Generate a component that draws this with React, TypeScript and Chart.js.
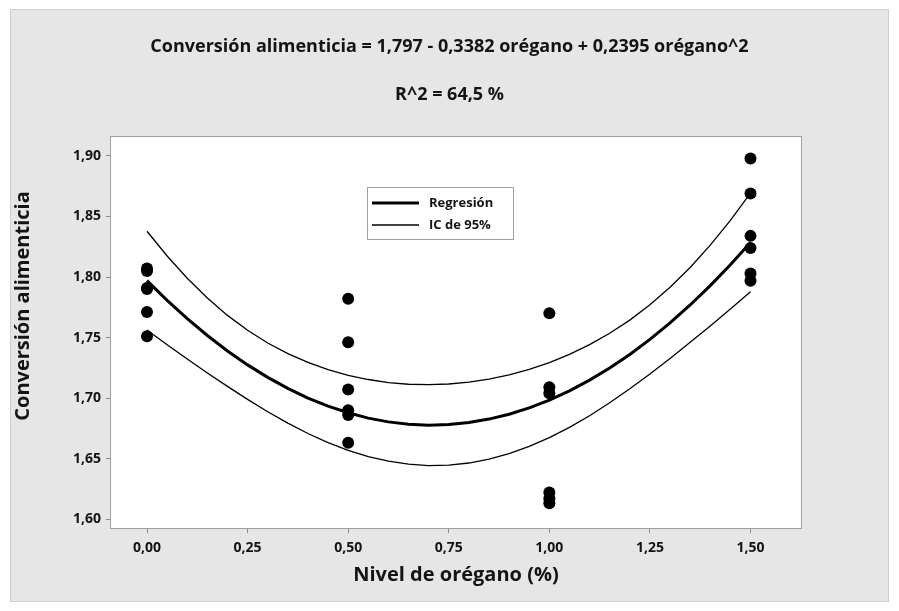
import React, { useEffect, useRef } from "react";
import { Chart, registerables } from "chart.js";

Chart.register(...registerables);

const titleLine1 = "Conversión alimenticia = 1,797 - 0,3382 orégano + 0,2395 orégano^2";
const titleLine2 = "R^2 = 64,5 %";
const xAxisTitle = "Nivel de orégano (%)";
const yAxisTitle = "Conversión alimenticia";
const legendLabels = ["Regresión", "IC de 95%"];

const xTickValues = [0, 0.25, 0.5, 0.75, 1, 1.25, 1.5];
const yTickValues = [1.6, 1.65, 1.7, 1.75, 1.8, 1.85, 1.9];

// observed data
const obsX = [
  0, 0, 0, 0, 0, 0,
  0.5, 0.5, 0.5, 0.5, 0.5, 0.5,
  1, 1, 1, 1, 1, 1,
  1.5, 1.5, 1.5, 1.5, 1.5, 1.5,
];
const obsY = [
  1.807, 1.805, 1.791, 1.790, 1.771, 1.751,
  1.782, 1.746, 1.707, 1.690, 1.686, 1.663,
  1.770, 1.709, 1.704, 1.622, 1.617, 1.613,
  1.898, 1.869, 1.834, 1.824, 1.803, 1.797,
];

// fitted curve and 95% CI read along the x axis
const curveX = [
  0, 0.05, 0.1, 0.15, 0.2, 0.25, 0.3, 0.35, 0.4, 0.45, 0.5, 0.55, 0.6, 0.65, 0.7, 0.75,
  0.8, 0.85, 0.9, 0.95, 1, 1.05, 1.1, 1.15, 1.2, 1.25, 1.3, 1.35, 1.4, 1.45, 1.5,
];
const fitY = [
  1.7970, 1.7807, 1.7656, 1.7517, 1.7389, 1.7274, 1.7171, 1.7080, 1.7000, 1.6933, 1.6878,
  1.6834, 1.6803, 1.6784, 1.6776, 1.6781, 1.6797, 1.6826, 1.6866, 1.6919, 1.6983, 1.7059,
  1.7148, 1.7248, 1.7360, 1.7485, 1.7621, 1.7769, 1.7929, 1.8102, 1.8286,
];
const upperY = [
  1.8378, 1.8174, 1.7990, 1.7826, 1.7683, 1.7560, 1.7455, 1.7367, 1.7294, 1.7235, 1.7188,
  1.7153, 1.7128, 1.7114, 1.7110, 1.7116, 1.7131, 1.7156, 1.7192, 1.7237, 1.7293, 1.7361,
  1.7441, 1.7535, 1.7644, 1.7770, 1.7915, 1.8079, 1.8263, 1.8468, 1.8694,
];
const lowerY = [
  1.7562, 1.7440, 1.7322, 1.7207, 1.7096, 1.6989, 1.6887, 1.6793, 1.6707, 1.6631, 1.6568,
  1.6516, 1.6478, 1.6453, 1.6442, 1.6446, 1.6463, 1.6495, 1.6541, 1.6600, 1.6673, 1.6758,
  1.6854, 1.6961, 1.7077, 1.7199, 1.7327, 1.7460, 1.7596, 1.7735, 1.7878,
];

const FONT = '"Open Sans", "Noto Sans", "DejaVu Sans", sans-serif';
const TEXT = "#141414";
const AXIS = "#8c8c8c";

const fmt = (v: number) => Number(v).toFixed(2).replace(".", ",");

const framePlugin = {
  id: "framePlugin",
  beforeDraw(chart: any) {
    const { ctx, chartArea: ca } = chart;
    ctx.save();
    ctx.fillStyle = "#ffffff";
    ctx.fillRect(ca.left, ca.top, ca.right - ca.left, ca.bottom - ca.top);
    ctx.restore();
  },
  afterDraw(chart: any) {
    const { ctx, chartArea: ca, width } = chart;
    ctx.save();
    // plot border
    ctx.strokeStyle = "#a0a0a0";
    ctx.lineWidth = 1;
    ctx.strokeRect(Math.round(ca.left) - 0.5, Math.round(ca.top) - 0.5, Math.round(ca.right - ca.left) + 1, Math.round(ca.bottom - ca.top) + 1);

    // titles
    ctx.fillStyle = TEXT;
    ctx.textAlign = "center";
    ctx.textBaseline = "middle";
    ctx.font = `bold 18px ${FONT}`;
    ctx.fillText(titleLine1, width / 2, 47);
    ctx.fillText(titleLine2, width / 2, 95);

    // axis titles
    ctx.font = `bold 20px ${FONT}`;
    ctx.fillText(xAxisTitle, (ca.left + ca.right) / 2, 575);
    ctx.save();
    ctx.translate(23, 306);
    ctx.rotate(-Math.PI / 2);
    ctx.fillText(yAxisTitle, 0, 0);
    ctx.restore();

    // legend
    const lx = ca.left + 256;
    const ly = ca.top + 50;
    const lw = 146;
    const lh = 52;
    ctx.fillStyle = "#ffffff";
    ctx.fillRect(lx, ly, lw, lh);
    ctx.strokeStyle = "#a0a0a0";
    ctx.lineWidth = 1;
    ctx.strokeRect(Math.round(lx) + 0.5, Math.round(ly) + 0.5, lw, lh);
    const rows = [ly + 16, ly + 38];
    const widths = [3, 1.3];
    ctx.strokeStyle = "#000";
    rows.forEach((ry, i) => {
      ctx.lineWidth = widths[i];
      ctx.beginPath();
      ctx.moveTo(lx + 5, ry);
      ctx.lineTo(lx + 52, ry);
      ctx.stroke();
      ctx.fillStyle = TEXT;
      ctx.textAlign = "left";
      ctx.font = `bold 13px ${FONT}`;
      ctx.fillText(legendLabels[i], lx + 62, ry);
    });
    ctx.restore();
  },
};

export default function App() {
  const canvasRef = useRef<HTMLCanvasElement | null>(null);

  useEffect(() => {
    document.body.style.margin = "0";
    const canvas = canvasRef.current;
    if (!canvas) return;

    const points = obsX.map((x, i) => ({ x, y: obsY[i] }));
    const fit = curveX.map((x, i) => ({ x, y: fitY[i] }));
    const up = curveX.map((x, i) => ({ x, y: upperY[i] }));
    const lo = curveX.map((x, i) => ({ x, y: lowerY[i] }));

    const chart = new Chart(canvas, {
      type: "scatter",
      data: {
        datasets: [
          {
            label: legendLabels[1],
            data: up,
            showLine: true,
            borderColor: "#000",
            borderWidth: 1.3,
            pointRadius: 0,
            tension: 0,
          },
          {
            label: legendLabels[1] + " inf",
            data: lo,
            showLine: true,
            borderColor: "#000",
            borderWidth: 1.3,
            pointRadius: 0,
            tension: 0,
          },
          {
            label: legendLabels[0],
            data: fit,
            showLine: true,
            borderColor: "#000",
            borderWidth: 3,
            pointRadius: 0,
            tension: 0,
          },
          {
            label: "Datos",
            data: points,
            showLine: false,
            pointRadius: 6,
            pointBackgroundColor: "#000",
            pointBorderWidth: 0,
            borderColor: "#000",
          },
        ],
      },
      options: {
        responsive: false,
        animation: false,
        devicePixelRatio: 1,
        layout: { padding: { left: 10, right: 98, top: 137, bottom: 0 } },
        plugins: {
          legend: { display: false },
          tooltip: { enabled: false },
          title: { display: false },
        },
        scales: {
          x: {
            type: "linear",
            min: -0.0895,
            max: 1.6255,
            afterBuildTicks: (s: any) => {
              s.ticks = xTickValues.map((v) => ({ value: v }));
            },
            afterFit: (s: any) => {
              s.height = 83;
            },
            ticks: {
              callback: (v: any) => fmt(v),
              font: { family: FONT, size: 14, weight: "bold" },
              color: TEXT,
              padding: 7,
              maxRotation: 0,
              autoSkip: false,
            },
            grid: { drawOnChartArea: false, drawTicks: true, tickLength: 5, color: AXIS },
            border: { display: false },
            title: { display: false },
          },
          y: {
            type: "linear",
            min: 1.5926,
            max: 1.9157,
            afterBuildTicks: (s: any) => {
              s.ticks = yTickValues.map((v) => ({ value: v }));
            },
            afterFit: (s: any) => {
              s.width = 101;
            },
            ticks: {
              callback: (v: any) => fmt(v),
              font: { family: FONT, size: 14, weight: "bold" },
              color: TEXT,
              padding: 5,
              autoSkip: false,
            },
            grid: { drawOnChartArea: false, drawTicks: true, tickLength: 5, color: AXIS },
            border: { display: false },
            title: { display: false },
          },
        },
      },
      plugins: [framePlugin],
    } as any);

    return () => chart.destroy();
  }, []);

  return (
    <div style={{ position: "relative", width: 899, height: 611, background: "#ffffff", overflow: "hidden" }}>
      <div
        style={{
          position: "absolute",
          left: 10,
          top: 9,
          width: 879,
          height: 593,
          boxSizing: "border-box",
          background: "#e6e6e6",
          border: "1px solid #cfcfcf",
        }}
      />
      <canvas
        ref={canvasRef}
        width={899}
        height={611}
        style={{ position: "absolute", left: 0, top: 0, width: 899, height: 611 }}
      />
    </div>
  );
}
